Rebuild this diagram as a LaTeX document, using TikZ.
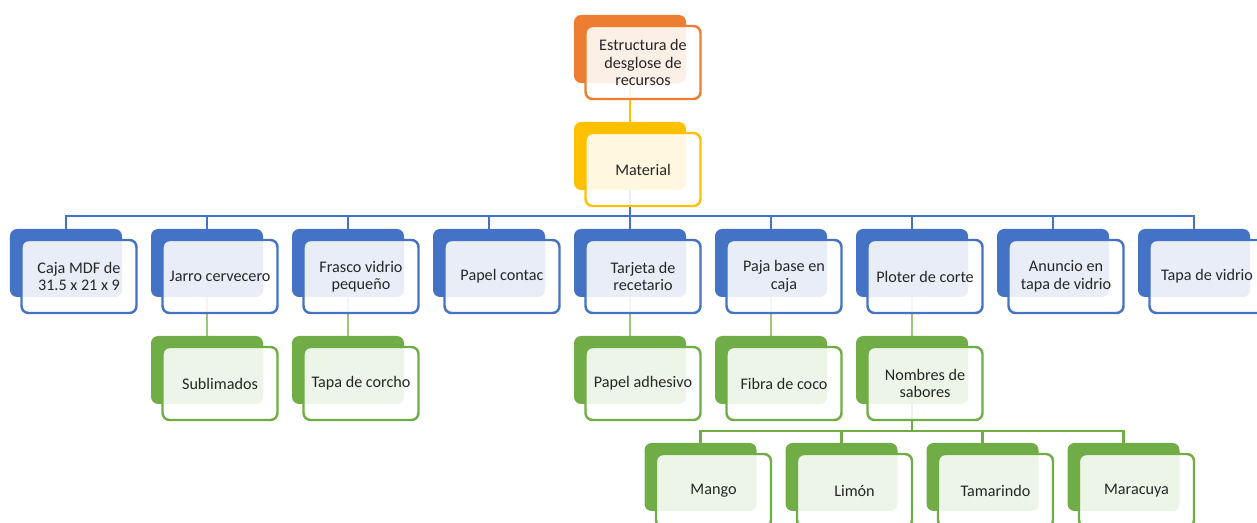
\documentclass[tikz,border=0pt]{standalone}
\usepackage{fontspec}
\setmainfont{Carlito}
\usepackage{tikz}
\usetikzlibrary{positioning}
\usetikzlibrary{calc}
\usetikzlibrary{backgrounds}
\definecolor{naranja}{HTML}{ED7D31}
\definecolor{oro}{HTML}{FFC000}
\definecolor{azul}{HTML}{4472C4}
\definecolor{verde}{HTML}{70AD47}
\definecolor{texto}{HTML}{262626}

\tikzset{
  fondo/.style={fill=#1,rounded corners=4pt,minimum width=2.24cm,minimum height=1.36cm,inner sep=0pt,outer sep=0pt},
  frente/.style={draw=#1,fill=white,fill opacity=0.88,text opacity=1,line width=1.4pt,rounded corners=4pt,
    minimum width=2.3cm,minimum height=1.46cm,inner sep=0pt,align=center,text=texto,
    font=\fontsize{9.2}{10}\selectfont},
  enlace/.style={draw=#1,line width=1.2pt}
}
% caja doble: nombre, posicion, color, texto
\newcommand{\recurso}[4]{%
  \node[fondo=#3,#2] (#1) {};
  \node[frente=#3] (#1-f) at ($(#1)+(0.26,-0.27)$) {#4};
}

\begin{document}
\begin{tikzpicture}[node distance=0.78cm and 0.58cm]
  \useasboundingbox (0,0) rectangle (25.14,-10.46);
  \clip (0,0) rectangle (25.14,-10.46);

  \recurso{top}{at={(12.6,-0.98)}}{naranja}{Estructura de\\desglose de\\recursos}
  \recurso{mat}{below=of top}{oro}{Material}

  % primer nivel
  \recurso{tarj}{below=of mat}{azul}{Tarjeta de\\recetario}
  \recurso{papc}{left=of tarj}{azul}{Papel contac}
  \recurso{fras}{left=of papc}{azul}{Frasco vidrio\\pequeño}
  \recurso{jarro}{left=of fras}{azul}{Jarro cervecero}
  \recurso{caja}{left=of jarro}{azul}{Caja MDF de\\31.5 x 21 x 9}
  \recurso{paja}{right=of tarj}{azul}{Paja base en\\caja}
  \recurso{plot}{right=of paja}{azul}{Ploter de corte}
  \recurso{anun}{right=of plot}{azul}{Anuncio en\\tapa de vidrio}
  \recurso{tapv}{right=of anun}{azul}{Tapa de vidrio}

  % segundo nivel
  \recurso{subl}{below=of jarro}{verde}{Sublimados}
  \recurso{corc}{below=of fras}{verde}{Tapa de corcho}
  \recurso{adhe}{below=of tarj}{verde}{Papel adhesivo}
  \recurso{fibr}{below=of paja}{verde}{Fibra de coco}
  \recurso{nomb}{below=of plot}{verde}{Nombres de\\sabores}

  % sabores
  \coordinate[below=of nomb] (m3);
  \recurso{limon}{below left=0cm and 0.29cm of m3}{verde}{Limón}
  \recurso{tama}{below right=0cm and 0.29cm of m3}{verde}{Tamarindo}
  \recurso{mango}{left=of limon}{verde}{Mango}
  \recurso{mara}{right=of tama}{verde}{Maracuya}

  \begin{scope}[on background layer]
    \draw[enlace=oro] (top.south) -- (mat.north);
    \coordinate (busA) at ($(mat.south)+(0,-0.52)$);
    \foreach \h in {caja,jarro,fras,papc,tarj,paja,plot,anun,tapv}
      \draw[enlace=azul] (mat.south) -- (busA) -| (\h.north);
    \draw[enlace=verde!70] (jarro.south) -- (subl.north);
    \draw[enlace=verde!70] (fras.south) -- (corc.north);
    \draw[enlace=verde!70] (tarj.south) -- (adhe.north);
    \draw[enlace=verde!70] (paja.south) -- (fibr.north);
    \draw[enlace=verde!70] (plot.south) -- (nomb.north);
    \coordinate (busB) at ($(nomb.south)+(0,-0.54)$);
    \foreach \h in {mango,limon,tama,mara}
      \draw[enlace=verde] (nomb.south) -- (busB) -| (\h.north);
  \end{scope}
\end{tikzpicture}
\end{document}
